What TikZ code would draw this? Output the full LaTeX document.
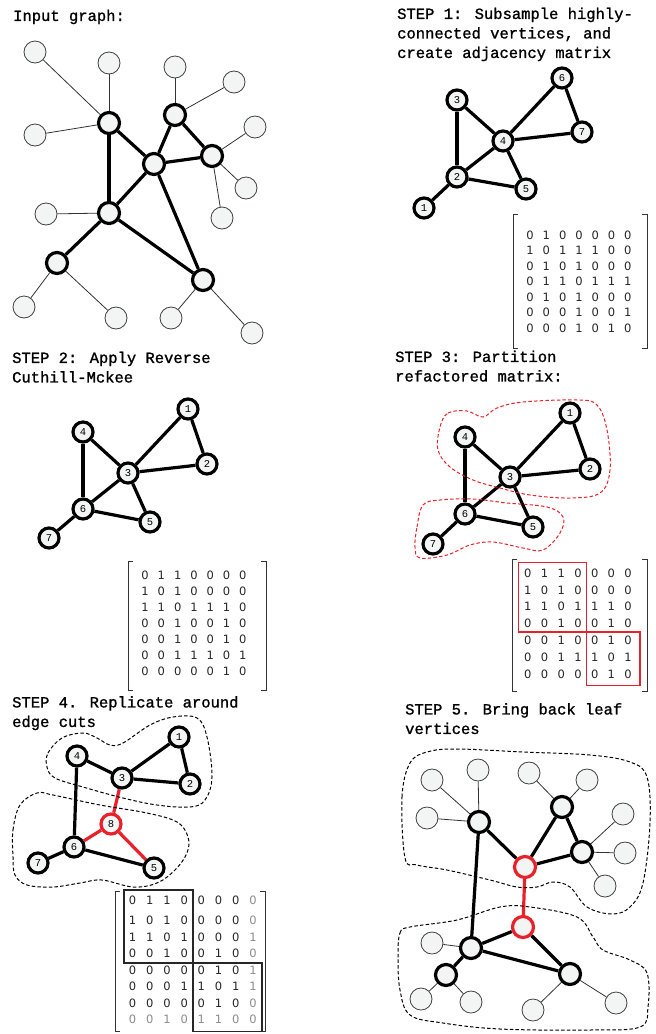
\documentclass[tikz,border=0pt]{standalone}
\usepackage{fontspec}
\setmainfont{Liberation Serif}
\newfontfamily\capfont[FakeBold=1.2]{Liberation Mono}
\newfontfamily\numfont{Liberation Mono}
\newfontfamily\cellfont{DejaVu Sans}
\usetikzlibrary{matrix,backgrounds}

\definecolor{vfill}{HTML}{F3F4F4}
\definecolor{cutred}{HTML}{E8212B}
\definecolor{cellgray}{HTML}{8C8C8C}

\tikzset{
  caption/.style={anchor=north west, inner sep=0pt, align=left,
    font=\capfont\fontsize{15.5}{19.5}\selectfont},
  hub/.style={circle, draw, line width=3.2pt, fill=vfill, minimum size=21pt, inner sep=0pt},
  leaf/.style={circle, draw=black!75, line width=0.8pt, fill=vfill, minimum size=22pt, inner sep=0pt},
  vtx/.style={hub, minimum size=20pt, font=\numfont\fontsize{10.5}{10.5}\selectfont},
  cutvtx/.style={vtx, draw=cutred},
  cuthub/.style={hub, draw=cutred},
  bond/.style={line width=3.2pt},
  twig/.style={line width=0.8pt, black!80},
  cutbond/.style={bond, cutred},
  blob/.style={line width=1pt, dash pattern=on 3.5pt off 2.2pt},
  cutblob/.style={blob, cutred},
  adj/.style={matrix of nodes, inner sep=0pt, row sep=0pt, column sep=0pt,
    nodes={inner sep=0pt, minimum width=16.3pt, minimum height=15.5pt,
      font=\cellfont\fontsize{11.5}{11.5}\selectfont, text=black!85}},
  brk/.style={line width=0.8pt, black!80},
  partbox/.style={line width=1.7pt, cutred},
  cutbox/.style={line width=1.7pt, black!85},
}

\begin{document}
\begin{tikzpicture}[x=1pt,y=-1pt]
\useasboundingbox (0,0) rectangle (656,1034);

% ---- input graph
\node[caption] (cap0) at (13,9.5) {Input graph:};
\node[hub] (h1) at (109,123) {};
\node[hub] (h2) at (175,115) {};
\node[hub] (h3) at (154,164) {};
\node[hub] (h4) at (212,156) {};
\node[hub] (h5) at (109,213) {};
\node[hub] (h6) at (57,263) {};
\node[hub] (h7) at (203,280) {};
\foreach \n/\x/\y in {1/35/52, 2/109/63, 3/35/135, 4/175/67, 5/234/82, 6/255/127, 7/246/188,
  8/222/218, 9/46/214, 10/24/307, 11/116/318, 12/171/318, 13/252/333}
  \node[leaf] (l\n) at (\x,\y) {};
\begin{scope}[on background layer]
\path[bond] (h1) edge (h5) edge (h3)
  (h2) edge (h3) edge (h4)
  (h3) edge (h4) edge (h5) edge (h7)
  (h5) edge (h6) edge (h7);
\foreach \a/\b in {l1/h1, l2/h1, l3/h1, l4/h2, l5/h2, l6/h4, l7/h4, l8/h4,
  l9/h5, l10/h6, l11/h6, l12/h7, l13/h7}
  \draw[twig] (\a) -- (\b);
\end{scope}

% ---- step 1
\node[caption] (cap1) at (397,7.5) {STEP 1: Subsample highly-\\connected vertices, and\\create adjacency matrix};
\node[vtx] (a1) at (424,208) {1};
\node[vtx] (a2) at (457,177) {2};
\node[vtx] (a3) at (457,100) {3};
\node[vtx] (a4) at (503,141) {4};
\node[vtx] (a5) at (526,189) {5};
\node[vtx] (a6) at (562,78) {6};
\node[vtx] (a7) at (582,132) {7};
\begin{scope}[on background layer]
\path[bond] (a1) edge (a2)
  (a2) edge (a3) edge (a4) edge (a5)
  (a3) edge (a4)
  (a4) edge (a5) edge (a6) edge (a7)
  (a6) edge (a7);
\end{scope}
\matrix (mA) [adj] at (579,281.5) {
0 & 1 & 0 & 0 & 0 & 0 & 0 \\
1 & 0 & 1 & 1 & 1 & 0 & 0 \\
0 & 1 & 0 & 1 & 0 & 0 & 0 \\
0 & 1 & 1 & 0 & 1 & 1 & 1 \\
0 & 1 & 0 & 1 & 0 & 0 & 0 \\
0 & 0 & 0 & 1 & 0 & 0 & 1 \\
0 & 0 & 0 & 1 & 0 & 1 & 0 \\
};
\draw[brk] (518,214) -- (513,214) -- (513,348) -- (518,348);
\draw[brk] (642,214) -- (647,214) -- (647,348) -- (642,348);

% ---- step 2
\node[caption] (cap2) at (12,351.5) {STEP 2: Apply Reverse\\Cuthill-Mckee};
\node[vtx] (b1) at (188,409) {1};
\node[vtx] (b2) at (207,464) {2};
\node[vtx] (b3) at (128,473) {3};
\node[vtx] (b4) at (83,432) {4};
\node[vtx] (b5) at (150,522) {5};
\node[vtx] (b6) at (83,509) {6};
\node[vtx] (b7) at (49,538) {7};
\begin{scope}[on background layer]
\path[bond] (b1) edge (b3) edge (b2)
  (b3) edge (b2) edge (b4) edge (b6) edge (b5)
  (b4) edge (b6)
  (b6) edge (b5) edge (b7);
\end{scope}
\matrix (mB) [adj, nodes={minimum height=16pt}] at (194,623) {
0 & 1 & 1 & 0 & 0 & 0 & 0 \\
1 & 0 & 1 & 0 & 0 & 0 & 0 \\
1 & 1 & 0 & 1 & 1 & 1 & 0 \\
0 & 0 & 1 & 0 & 0 & 1 & 0 \\
0 & 0 & 1 & 0 & 0 & 1 & 0 \\
0 & 0 & 1 & 1 & 1 & 0 & 1 \\
0 & 0 & 0 & 0 & 0 & 1 & 0 \\
};
\draw[brk] (133,561) -- (128,561) -- (128,690) -- (133,690);
\draw[brk] (261,561) -- (266,561) -- (266,690) -- (261,690);

% ---- step 3
\node[caption] (cap3) at (395,350.5) {STEP 3: Partition\\refactored matrix:};
\node[vtx] (c1) at (570,413) {1};
\node[vtx] (c2) at (590,469) {2};
\node[vtx] (c3) at (510,477) {3};
\node[vtx] (c4) at (465,437) {4};
\node[vtx] (c5) at (533,527) {5};
\node[vtx] (c6) at (465,514) {6};
\node[vtx] (c7) at (433,544) {7};
\begin{scope}[on background layer]
\path[bond] (c1) edge (c3) edge (c2)
  (c3) edge (c2) edge (c4) edge (c6) edge (c5)
  (c4) edge (c6)
  (c6) edge (c5) edge (c7);
\end{scope}
\draw[cutblob] plot[smooth cycle, tension=0.6] coordinates {(440,427) (448,413) (467,411) (483,417)
  (497,408) (523,402) (577,400) (597,405) (607,430) (610,470) (600,493) (570,498) (530,495)
  (500,488) (473,480) (450,467) (438,450)};
\draw[cutblob] plot[smooth cycle, tension=0.6] coordinates {(415,547) (417,527) (423,505) (440,500)
  (473,499) (507,503) (547,507) (563,517) (560,533) (543,550) (523,548) (493,542) (470,545)
  (447,555) (420,558)};
\matrix (mC) [adj, nodes={minimum width=16.7pt, minimum height=16.8pt}] at (578,623.5) {
0 & 1 & 1 & 0 & 0 & 0 & 0 \\
1 & 0 & 1 & 0 & 0 & 0 & 0 \\
1 & 1 & 0 & 1 & 1 & 1 & 0 \\
0 & 0 & 1 & 0 & 0 & 1 & 0 \\
0 & 0 & 1 & 0 & 0 & 1 & 0 \\
0 & 0 & 1 & 1 & 1 & 0 & 1 \\
0 & 0 & 0 & 0 & 0 & 1 & 0 \\
};
\draw[brk] (517,559) -- (512,559) -- (512,691) -- (517,691);
\draw[brk] (642,559) -- (647,559) -- (647,691) -- (642,691);
\draw[partbox] ([xshift=-1pt,yshift=2pt]mC-1-1.north west) rectangle (mC-4-4.south east);
\draw[partbox] (mC-4-4.south east) rectangle ([xshift=3pt,yshift=-3pt]mC-7-7.south east);

% ---- step 4
\node[caption] (cap4) at (12,696) {STEP 4. Replicate around\\edge cuts};
\node[vtx] (d1) at (179,737) {1};
\node[vtx] (d2) at (190,784) {2};
\node[vtx] (d3) at (122,778) {3};
\node[vtx] (d4) at (77,756) {4};
\node[cutvtx] (d8) at (111,824) {8};
\node[vtx] (d6) at (74,847) {6};
\node[vtx] (d7) at (38,863) {7};
\node[vtx] (d5) at (154,868) {5};
\begin{scope}[on background layer]
\path[bond] (d1) edge (d3) edge (d2)
  (d3) edge (d2) edge (d4)
  (d4) edge (d6)
  (d6) edge (d7) edge (d5);
\path[cutbond] (d8) edge (d3) edge (d6) edge (d5);
\end{scope}
\draw[blob] plot[smooth cycle, tension=0.6] coordinates {(47,767) (48,753) (62,738) (83,733)
  (97,738) (110,745) (123,743) (150,725) (173,717) (197,718) (207,737) (212,777) (205,800)
  (190,807) (157,805) (123,798) (83,787) (55,778)};
\draw[blob] plot[smooth cycle, tension=0.6] coordinates {(13,857) (13,830) (20,805) (37,793)
  (53,795) (100,805) (147,813) (177,822) (188,837) (187,853) (175,870) (157,883) (133,887)
  (102,880) (80,883) (53,887) (27,885) (15,875)};
\matrix (mD) [adj, nodes={minimum width=17.2pt, minimum height=16.5pt}] at (192.8,960) {
0 & 1 & 1 & 0 & 0 & 0 & 0 & |[text=cellgray]| 0 \\[3.5pt]
1 & 0 & 1 & 0 & 0 & 0 & 0 & |[text=cellgray]| 0 \\
1 & 1 & 0 & 1 & 0 & 0 & 0 & |[text=cellgray]| 1 \\
0 & 0 & 1 & 0 & 0 & 1 & 0 & |[text=cellgray]| 0 \\
0 & 0 & 0 & 0 & 0 & 1 & 0 & |[text=cellgray]| 1 \\
0 & 0 & 0 & 1 & 1 & 0 & 1 & |[text=cellgray]| 1 \\
0 & 0 & 0 & 0 & 0 & 1 & 0 & |[text=cellgray]| 0 \\
|[text=cellgray]| 0 & |[text=cellgray]| 0 & |[text=cellgray]| 1 & |[text=cellgray]| 0 &
|[text=cellgray]| 1 & |[text=cellgray]| 1 & |[text=cellgray]| 0 & |[text=cellgray]| 0 \\
};
\draw[brk] (120,891) -- (115,891) -- (115,1031) -- (120,1031);
\draw[brk] (260,891) -- (265,891) -- (265,1031) -- (260,1031);
\draw[cutbox] ([yshift=2pt]mD-1-1.north west) rectangle ([yshift=-1pt]mD-4-4.south east);
\draw[cutbox] ([yshift=-1pt]mD-4-4.south east) rectangle ([yshift=-3.5pt]mD-8-8.south east);

% ---- step 5
\node[caption] (cap5) at (405,703) {STEP 5. Bring back leaf\\vertices};
\node[hub] (e1) at (479,822) {};
\node[hub] (e2) at (562,807) {};
\node[hub] (e3) at (582,852) {};
\node[cuthub] (e4) at (525,867) {};
\node[cuthub] (e5) at (523,927) {};
\node[hub] (e6) at (471,948) {};
\node[hub] (e7) at (446,975) {};
\node[hub] (e8) at (570,974) {};
\foreach \n/\x/\y in {1/432/780, 2/478/770, 3/427/818, 4/529/773, 5/587/780, 6/623/814,
  7/625/853, 8/605/886, 9/432/943, 10/421/999, 11/471/1002, 12/533/1010, 13/616/1003}
  \node[leaf] (f\n) at (\x,\y) {};
\begin{scope}[on background layer]
\path[bond] (e1) edge (e4) edge (e6)
  (e2) edge (e4) edge (e3)
  (e3) edge (e4)
  (e5) edge (e6) edge (e8)
  (e6) edge (e7) edge (e8);
\path[cutbond] (e4) edge (e5);
\foreach \a/\b in {f1/e1, f2/e1, f3/e1, f4/e2, f5/e2, f6/e3, f7/e3, f8/e3,
  f9/e6, f10/e7, f11/e7, f12/e8, f13/e8}
  \draw[twig] (\a) -- (\b);
\end{scope}
\draw[blob] plot[smooth cycle, tension=0.6] coordinates {(405,858) (402,797) (410,763) (427,752)
  (457,749) (523,752) (590,755) (630,762) (647,777) (650,823) (643,883) (630,907) (612,914)
  (587,907) (570,887) (553,882) (537,887) (517,887) (490,880) (447,870) (417,865)};
\draw[blob] plot[smooth cycle, tension=0.6] coordinates {(398,957) (400,933) (410,927) (457,920)
  (500,907) (530,907) (577,917) (593,937) (603,950) (630,960) (647,973) (648,1007) (640,1027)
  (590,1030) (500,1029) (443,1023) (410,1015) (400,990)};
\end{tikzpicture}
\end{document}
